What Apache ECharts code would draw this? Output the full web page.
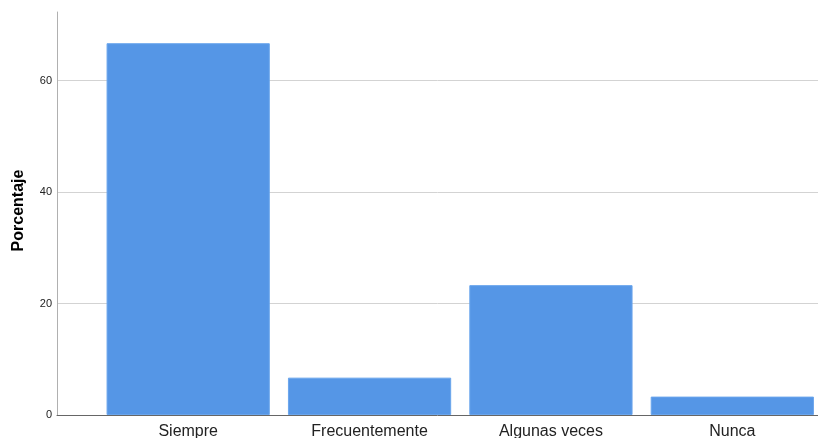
<!DOCTYPE html>
<html>
<head>
<meta charset="utf-8">
<script src="https://cdn.jsdelivr.net/npm/echarts@6/dist/echarts.min.js"></script>
<style>
html,body{margin:0;padding:0;background:#fff;}
#c{width:818px;height:438px;}
</style>
</head>
<body>
<div id="c"></div>
<script>
var categories = ['Siempre', 'Frecuentemente', 'Algunas veces', 'Nunca'];
var porcentaje = [66.7, 6.7, 23.3, 3.3];
var yTicks = [0, 20, 40, 60];
var yMax = 72.3;

var chart = echarts.init(document.getElementById('c'), null, {renderer: 'canvas'});
var font = 'Liberation Sans, Arial, sans-serif';
chart.setOption({
  animation: false,
  backgroundColor: '#ffffff',
  grid: [
    {left: 57, right: 0, top: 12, bottom: 23, outerBoundsMode: 'none', containLabel: false},
    {left: 97.5, width: 725.5, top: 12, bottom: 23, outerBoundsMode: 'none', containLabel: false}
  ],
  xAxis: [
    {
      gridIndex: 0, type: 'value', min: 0, max: 1,
      axisLine: {show: true, onZero: false, lineStyle: {color: '#666666', width: 1}},
      axisTick: {show: false}, axisLabel: {show: false}, splitLine: {show: false}
    },
    {
      gridIndex: 1, type: 'category', data: categories,
      axisLine: {show: false}, axisTick: {show: false},
      axisLabel: {fontFamily: font, fontSize: 16, color: '#222222', margin: 9}
    }
  ],
  yAxis: [
    {
      gridIndex: 0, type: 'value', min: yTicks[0], max: yMax, interval: yTicks[1] - yTicks[0],
      name: 'Porcentaje', nameLocation: 'middle', nameGap: 30,
      nameTextStyle: {fontFamily: font, fontSize: 16, fontWeight: 'bold', color: '#000000', padding: [0, 0, 0, 6]},
      axisLine: {show: true, onZero: false, lineStyle: {color: '#b0b0b0', width: 1}},
      axisTick: {show: false},
      axisLabel: {fontFamily: font, fontSize: 11, color: '#222222', margin: 5, showMaxLabel: false,
        formatter: function (v) { return yTicks.indexOf(v) >= 0 ? String(v) : ''; }},
      splitLine: {show: true, showMaxLine: false, showMinLine: false, lineStyle: {color: '#d3d3d3', width: 1}}
    },
    {
      gridIndex: 1, type: 'value', min: yTicks[0], max: yMax,
      show: false, splitLine: {show: false}
    }
  ],
  series: [
    {
      type: 'bar', xAxisIndex: 1, yAxisIndex: 1, data: porcentaje,
      barCategoryGap: '10%',
      itemStyle: {color: '#5596e6', borderColor: '#6aa5ec', borderWidth: 1},
      z: 3
    }
  ]
});
</script>
</body>
</html>
